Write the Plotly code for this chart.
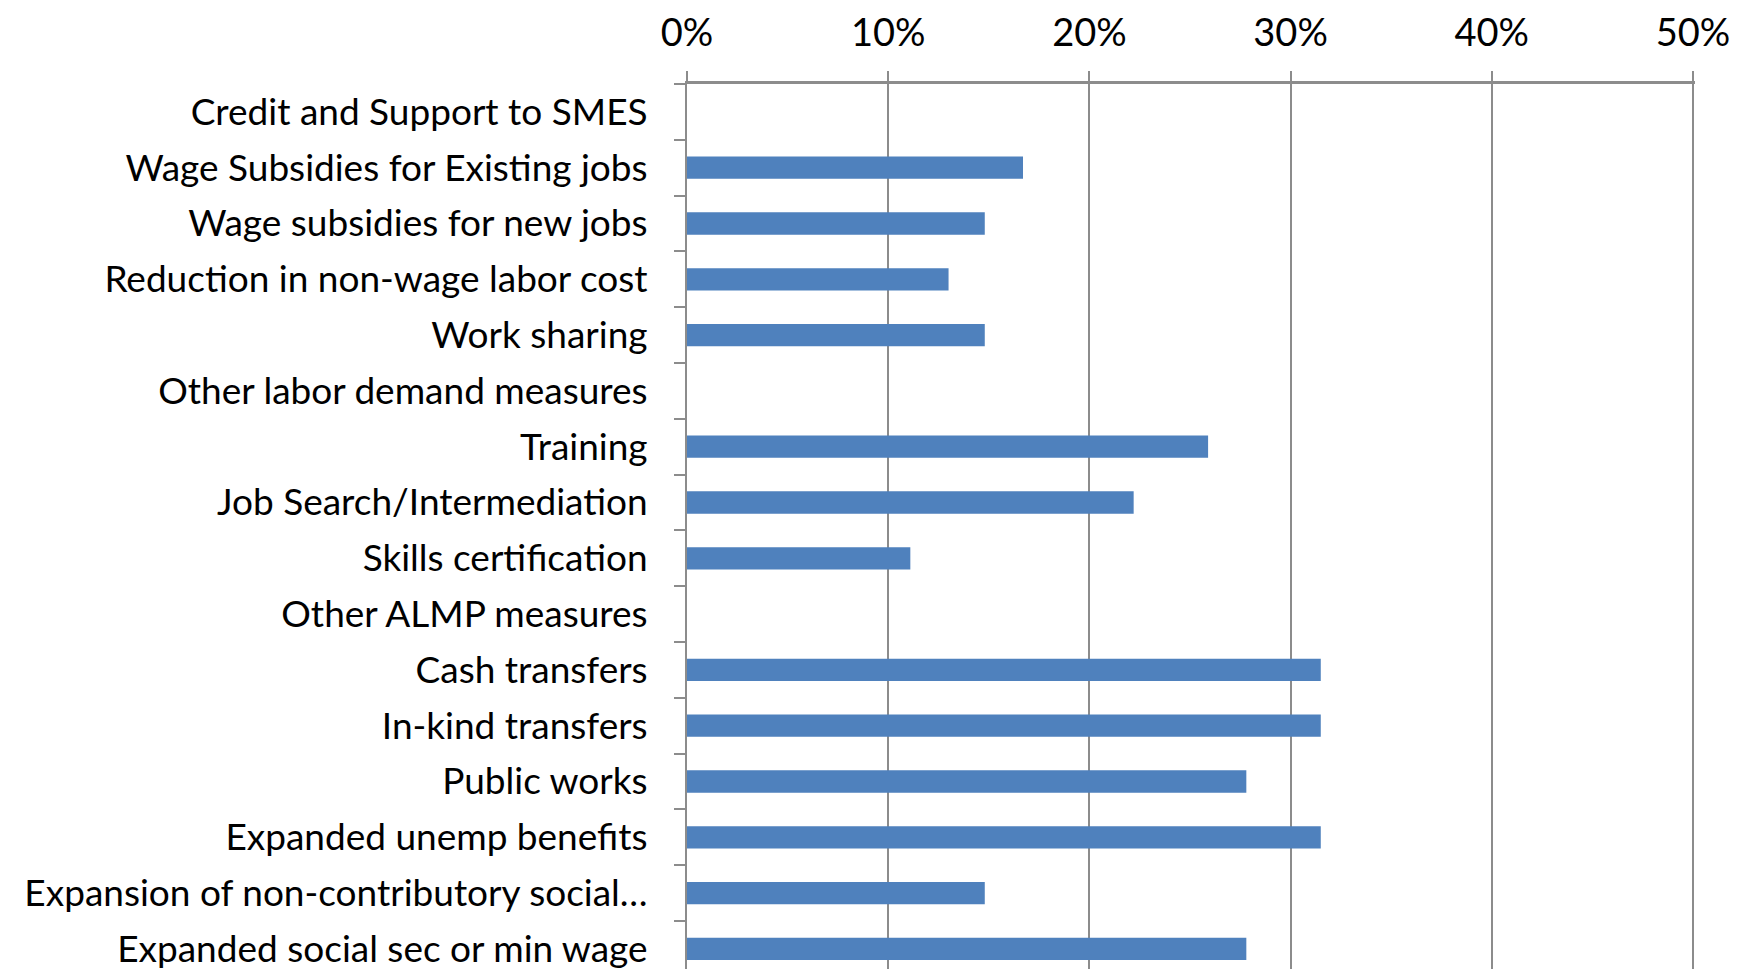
import plotly.graph_objects as go

categories = [
    "Credit and Support to SMES",
    "Wage Subsidies for Existing jobs",
    "Wage subsidies for new jobs",
    "Reduction in non-wage labor cost",
    "Work sharing",
    "Other labor demand measures",
    "Training",
    "Job Search/Intermediation",
    "Skills certification",
    "Other ALMP measures",
    "Cash transfers",
    "In-kind transfers",
    "Public works",
    "Expanded unemp benefits",
    "Expansion of non-contributory social…",
    "Expanded social sec or min wage",
]
values = [0, 16.7, 14.8, 13.0, 14.8, 0, 25.9, 22.2, 11.1, 0, 31.5, 31.5, 27.8, 31.5, 14.8, 27.8]
x_ticks = [0, 10, 20, 30, 40, 50]
x_tick_labels = ["0%", "10%", "20%", "30%", "40%", "50%"]

FONT = "Lato"
GRAY = "#8c8c8c"
FS = 37

fig = go.Figure(go.Bar(
    y=categories,
    x=values,
    orientation="h",
    width=0.4,
    marker=dict(color="#4F81BD", line=dict(width=0)),
))

fig.update_layout(
    width=1733, height=961,
    margin=dict(l=679, r=46, t=76, b=0, autoexpand=False),
    paper_bgcolor="white", plot_bgcolor="white",
    showlegend=False,
    font=dict(family=FONT, size=FS, color="black"),
)
fig.update_xaxes(
    side="top", range=[0, 50.1],
    tickvals=x_ticks, ticktext=x_tick_labels,
    showgrid=True, gridcolor=GRAY, gridwidth=1.5,
    showline=True, linecolor=GRAY, linewidth=2.5,
    ticks="outside", ticklen=10, tickcolor=GRAY, tickwidth=1.5,
    ticklabelstandoff=10,
    zeroline=False, automargin=False,
    tickfont=dict(family=FONT, size=38, color="black"),
)
fig.update_yaxes(
    type="category", categoryorder="array", categoryarray=categories,
    range=[15.36, -0.5],
    showgrid=False,
    showline=True, linecolor=GRAY, linewidth=2,
    ticks="outside", ticklen=11, tickcolor=GRAY, tickwidth=1.5,
    tickson="boundaries",
    ticklabelstandoff=30,
    automargin=False,
    tickfont=dict(family=FONT, size=FS, color="black"),
)

fig.write_html("out.html")
